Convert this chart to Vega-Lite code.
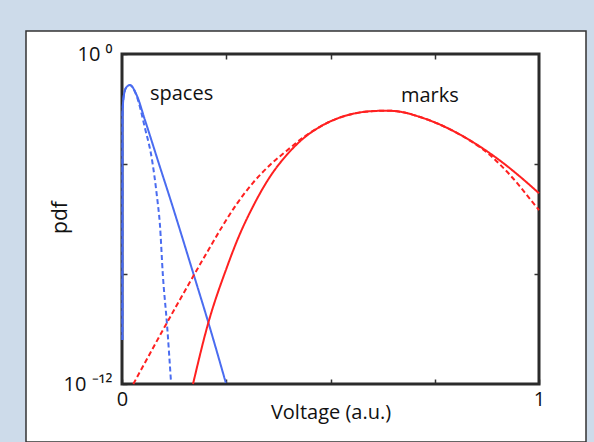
{
  "$schema": "https://vega.github.io/schema/vega-lite/v6.json",
  "autosize": "none",
  "width": 560,
  "height": 411,
  "padding": {"left": 26, "top": 31, "right": 8, "bottom": 0},
  "background": "#cddbea",
  "config": {
    "view": {"fill": "white", "stroke": "#333", "strokeWidth": 1.5},
    "font": "Open Sans",
    "axis": {
      "labelFont": "Open Sans", "labelFontSize": 20, "labelColor": "#111",
      "titleFont": "Open Sans", "titleFontSize": 20, "titleFontWeight": "normal", "titleColor": "#111",
      "grid": false, "domain": false, "tickColor": "#333", "tickWidth": 1.5,
      "labelOverlap": false, "labelFlush": false
    }
  },
  "resolve": {"axis": {"x": "independent", "y": "independent"}},
  "layer": [
    {
      "data": {"values": [{"frame": "plot"}]},
      "mark": {"type": "rect", "fill": null, "stroke": "#2b2b2b", "strokeWidth": 3},
      "encoding": {
        "x": {"datum": 0, "type": "quantitative",
          "scale": {"domain": [-0.23022, 1.11271], "nice": false, "zero": false},
          "axis": {"orient": "top", "offset": -23, "values": [0.25, 0.5, 0.75], "labels": false, "tickSize": -5, "title": null}},
        "x2": {"datum": 1},
        "y": {"datum": 1e-12, "type": "quantitative",
          "scale": {"type": "log", "domain": [7.78e-15, 6.861], "nice": false},
          "axis": {"orient": "right", "offset": -47, "values": [0.0001, 1e-8], "labels": false, "tickSize": -5, "title": null}},
        "y2": {"datum": 1}
      }
    },
    {
      "data": {"values": [
        {"group": "spaces", "kind": "solid", "x": 0.0010, "pdf": 4e-11},
        {"group": "spaces", "kind": "solid", "x": 0.0012, "pdf": 0.0063},
        {"group": "spaces", "kind": "solid", "x": 0.004, "pdf": 0.0282},
        {"group": "spaces", "kind": "solid", "x": 0.010, "pdf": 0.0603},
        {"group": "spaces", "kind": "solid", "x": 0.019, "pdf": 0.0741},
        {"group": "spaces", "kind": "solid", "x": 0.035, "pdf": 0.0324},
        {"group": "spaces", "kind": "solid", "x": 0.055, "pdf": 0.00398},
        {"group": "spaces", "kind": "solid", "x": 0.091, "pdf": 7.8e-5},
        {"group": "spaces", "kind": "solid", "x": 0.115, "pdf": 5.8e-6},
        {"group": "spaces", "kind": "solid", "x": 0.139, "pdf": 3.98e-7},
        {"group": "spaces", "kind": "solid", "x": 0.170, "pdf": 1.18e-8},
        {"group": "spaces", "kind": "solid", "x": 0.206, "pdf": 1.95e-10},
        {"group": "spaces", "kind": "solid", "x": 0.249, "pdf": 1.1e-12},
        {"group": "spaces", "kind": "dashed", "x": 0.0010, "pdf": 4e-11},
        {"group": "spaces", "kind": "dashed", "x": 0.0012, "pdf": 0.0063},
        {"group": "spaces", "kind": "dashed", "x": 0.004, "pdf": 0.0282},
        {"group": "spaces", "kind": "dashed", "x": 0.010, "pdf": 0.0603},
        {"group": "spaces", "kind": "dashed", "x": 0.019, "pdf": 0.0741},
        {"group": "spaces", "kind": "dashed", "x": 0.035, "pdf": 0.030},
        {"group": "spaces", "kind": "dashed", "x": 0.055, "pdf": 0.00204},
        {"group": "spaces", "kind": "dashed", "x": 0.072, "pdf": 0.000141},
        {"group": "spaces", "kind": "dashed", "x": 0.084, "pdf": 6.3e-6},
        {"group": "spaces", "kind": "dashed", "x": 0.091, "pdf": 6.0e-7},
        {"group": "spaces", "kind": "dashed", "x": 0.098, "pdf": 9.1e-9},
        {"group": "spaces", "kind": "dashed", "x": 0.108, "pdf": 1.41e-10},
        {"group": "spaces", "kind": "dashed", "x": 0.1175, "pdf": 1.2e-12},
        {"group": "marks", "kind": "solid", "x": 0.1703, "pdf": 1.0e-12},
        {"group": "marks", "kind": "solid", "x": 0.2062, "pdf": 1.52e-10},
        {"group": "marks", "kind": "solid", "x": 0.2518, "pdf": 1.80e-8},
        {"group": "marks", "kind": "solid", "x": 0.2782, "pdf": 1.97e-7},
        {"group": "marks", "kind": "solid", "x": 0.3141, "pdf": 2.85e-6},
        {"group": "marks", "kind": "solid", "x": 0.3549, "pdf": 3.44e-5},
        {"group": "marks", "kind": "solid", "x": 0.3957, "pdf": 2.19e-4},
        {"group": "marks", "kind": "solid", "x": 0.4341, "pdf": 8.35e-4},
        {"group": "marks", "kind": "solid", "x": 0.4748, "pdf": 2.26e-3},
        {"group": "marks", "kind": "solid", "x": 0.5156, "pdf": 4.48e-3},
        {"group": "marks", "kind": "solid", "x": 0.5540, "pdf": 6.69e-3},
        {"group": "marks", "kind": "solid", "x": 0.5947, "pdf": 8.28e-3},
        {"group": "marks", "kind": "solid", "x": 0.6355, "pdf": 8.67e-3},
        {"group": "marks", "kind": "solid", "x": 0.6667, "pdf": 7.98e-3},
        {"group": "marks", "kind": "solid", "x": 0.7146, "pdf": 5.12e-3},
        {"group": "marks", "kind": "solid", "x": 0.7626, "pdf": 2.71e-3},
        {"group": "marks", "kind": "solid", "x": 0.8106, "pdf": 1.17e-3},
        {"group": "marks", "kind": "solid", "x": 0.8585, "pdf": 4.30e-4},
        {"group": "marks", "kind": "solid", "x": 0.9065, "pdf": 1.33e-4},
        {"group": "marks", "kind": "solid", "x": 0.9544, "pdf": 3.48e-5},
        {"group": "marks", "kind": "solid", "x": 1.0, "pdf": 8.61e-6},
        {"group": "marks", "kind": "dashed", "x": 0.0271, "pdf": 1.0e-12},
        {"group": "marks", "kind": "dashed", "x": 0.1295, "pdf": 6.53e-10},
        {"group": "marks", "kind": "dashed", "x": 0.2038, "pdf": 6.10e-8},
        {"group": "marks", "kind": "dashed", "x": 0.2398, "pdf": 5.16e-7},
        {"group": "marks", "kind": "dashed", "x": 0.2758, "pdf": 3.63e-6},
        {"group": "marks", "kind": "dashed", "x": 0.3141, "pdf": 2.07e-5},
        {"group": "marks", "kind": "dashed", "x": 0.3549, "pdf": 9.20e-5},
        {"group": "marks", "kind": "dashed", "x": 0.3957, "pdf": 3.10e-4},
        {"group": "marks", "kind": "dashed", "x": 0.4341, "pdf": 9.20e-4},
        {"group": "marks", "kind": "dashed", "x": 0.4748, "pdf": 2.26e-3},
        {"group": "marks", "kind": "dashed", "x": 0.5156, "pdf": 4.48e-3},
        {"group": "marks", "kind": "dashed", "x": 0.5540, "pdf": 6.69e-3},
        {"group": "marks", "kind": "dashed", "x": 0.5947, "pdf": 8.28e-3},
        {"group": "marks", "kind": "dashed", "x": 0.6355, "pdf": 8.67e-3},
        {"group": "marks", "kind": "dashed", "x": 0.6667, "pdf": 7.98e-3},
        {"group": "marks", "kind": "dashed", "x": 0.7146, "pdf": 5.12e-3},
        {"group": "marks", "kind": "dashed", "x": 0.7626, "pdf": 2.71e-3},
        {"group": "marks", "kind": "dashed", "x": 0.8106, "pdf": 1.17e-3},
        {"group": "marks", "kind": "dashed", "x": 0.8345, "pdf": 7.10e-4},
        {"group": "marks", "kind": "dashed", "x": 0.8585, "pdf": 4.08e-4},
        {"group": "marks", "kind": "dashed", "x": 0.8825, "pdf": 2.12e-4},
        {"group": "marks", "kind": "dashed", "x": 0.9065, "pdf": 9.59e-5},
        {"group": "marks", "kind": "dashed", "x": 0.9305, "pdf": 3.98e-5},
        {"group": "marks", "kind": "dashed", "x": 0.9544, "pdf": 1.52e-5},
        {"group": "marks", "kind": "dashed", "x": 0.9784, "pdf": 5.34e-6},
        {"group": "marks", "kind": "dashed", "x": 1.0, "pdf": 2.12e-6}
      ]},
      "mark": {"type": "line", "strokeWidth": 2, "interpolate": "monotone"},
      "encoding": {
        "x": {"field": "x", "type": "quantitative",
          "scale": {"domain": [-0.23022, 1.11271], "nice": false, "zero": false},
          "axis": {"orient": "bottom", "offset": -58, "values": [0, 0.25, 0.5, 0.75, 1],
            "labelExpr": "datum.value == 0 ? '0' : (datum.value == 1 ? '1' : '')",
            "tickSize": -5, "labelPadding": 10,
            "title": "Voltage (a.u.)", "titleX": 304.5, "titleY": 34, "titleBaseline": "alphabetic"}},
        "y": {"field": "pdf", "type": "quantitative",
          "scale": {"type": "log", "domain": [7.78e-15, 6.861], "nice": false},
          "axis": {"orient": "left", "offset": -96, "values": [1, 0.0001, 1e-8, 1e-12],
            "labelExpr": "datum.value >= 0.5 ? '10 ⁰' : (datum.value < 1e-11 ? '10 ⁻¹²' : '')",
            "tickSize": -5, "labelPadding": 15,
            "title": "pdf", "titleFontSize": 21, "titleX": -62, "titleY": 186, "titleAngle": -90, "titleBaseline": "middle", "titleAlign": "center"}},
        "color": {"field": "group", "type": "nominal",
          "scale": {"domain": ["spaces", "marks"], "range": ["#4a6cf0", "#ff2020"]}, "legend": null},
        "strokeDash": {"field": "kind", "type": "nominal",
          "scale": {"domain": ["solid", "dashed"], "range": [[1, 0], [5, 3]]}, "legend": null}
      }
    },
    {
      "data": {"values": [
        {"label": "spaces", "x": 0.067, "pdf": 0.0212},
        {"label": "marks", "x": 0.669, "pdf": 0.018}
      ]},
      "mark": {"type": "text", "align": "left", "baseline": "alphabetic", "font": "Open Sans", "fontSize": 20, "color": "#111"},
      "encoding": {
        "x": {"field": "x", "type": "quantitative", "scale": {"domain": [-0.23022, 1.11271], "nice": false, "zero": false}, "axis": null},
        "y": {"field": "pdf", "type": "quantitative", "scale": {"type": "log", "domain": [7.78e-15, 6.861], "nice": false}, "axis": null},
        "text": {"field": "label"}
      }
    }
  ]
}
